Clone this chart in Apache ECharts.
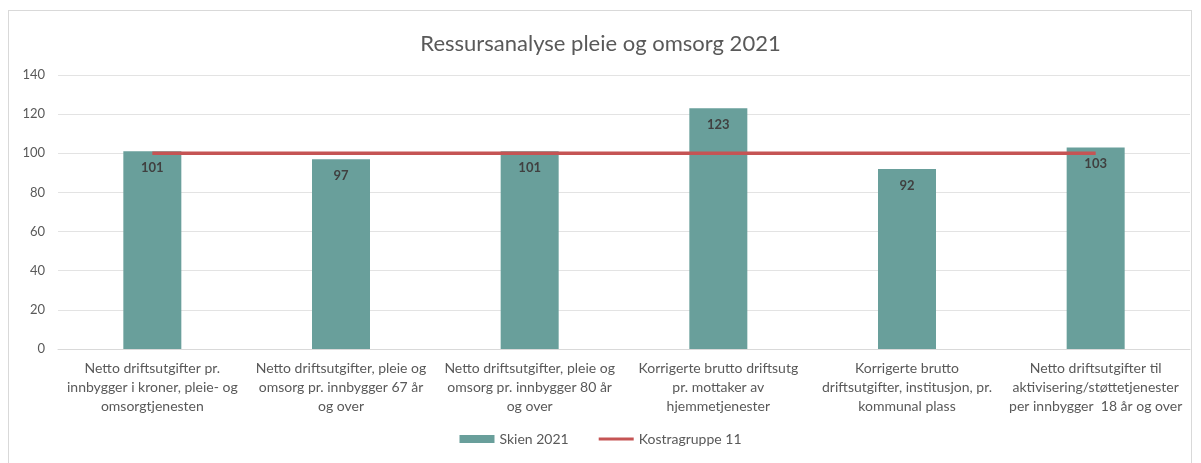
<!DOCTYPE html>
<html>
<head>
<meta charset="utf-8">
<script src="https://cdn.jsdelivr.net/npm/echarts@6/dist/echarts.min.js"></script>
<style>
  html, body { margin: 0; padding: 0; background: #fff; }
  #frame { position: absolute; left: 8px; top: 10px; width: 1184px; height: 460px; border: 1px solid #d9d9d9; border-bottom: none; box-sizing: border-box; }
  #chart { position: absolute; left: 0; top: 0; width: 1201px; height: 463px; }
</style>
</head>
<body>
<div id="frame"></div>
<div id="chart"></div>
<script>
// categories (wrapped as in the source chart)
let categories = [
    "Netto driftsutgifter pr.\ninnbygger i kroner, pleie- og\nomsorgtjenesten",
    "Netto driftsutgifter, pleie og\nomsorg pr. innbygger 67 år\nog over",
    "Netto driftsutgifter, pleie og\nomsorg pr. innbygger 80 år\nog over",
    "Korrigerte brutto driftsutg\npr. mottaker av\nhjemmetjenester",
    "Korrigerte brutto\ndriftsutgifter, institusjon, pr.\nkommunal plass",
    "Netto driftsutgifter til\naktivisering/støttetjenester\nper innbygger  18 år og over"
];
let skienValues = [101, 97, 101, 123, 92, 103];
let kostraValues = [100, 100, 100, 100, 100, 100];
let yTicks = { min: 0, max: 140, interval: 20 };

let fontFamily = "Lato, 'Open Sans', sans-serif";
let chart = echarts.init(document.getElementById("chart"));
let option = {
    animation: false,
    textStyle: { fontFamily: fontFamily },
    title: {
        text: "Ressursanalyse pleie og omsorg 2021",
        left: "center",
        top: 28,
        textStyle: { fontSize: 22, fontWeight: "normal", color: "#595959", fontFamily: fontFamily }
    },
    legend: {
        bottom: 12,
        left: "center",
        itemGap: 30,
        itemWidth: 35,
        itemHeight: 8,
        textStyle: { fontSize: 14, color: "#595959", fontFamily: fontFamily },
        data: [
            { name: "Skien 2021", icon: "rect" },
            { name: "Kostragruppe 11", icon: "path://M0,4 L35,4 L35,7 L0,7 Z" }
        ]
    },
    grid: {
        left: 58,
        right: 11,
        top: 75,
        bottom: 114
    },
    xAxis: {
        type: "category",
        data: categories,
        axisLine: { lineStyle: { color: "#d9d9d9", width: 1 } },
        axisTick: { show: false },
        axisLabel: {
            interval: 0,
            margin: 10,
            fontSize: 14,
            lineHeight: 19,
            color: "#595959",
            fontFamily: fontFamily
        }
    },
    yAxis: {
        type: "value",
        min: yTicks.min,
        max: yTicks.max,
        interval: yTicks.interval,
        axisLine: { show: false },
        axisTick: { show: false },
        splitLine: { show: true, lineStyle: { color: "#e3e3e3", width: 1 } },
        axisLabel: { fontSize: 13, color: "#595959", margin: 13, fontFamily: fontFamily }
    },
    series: [
        {
            name: "Skien 2021",
            type: "bar",
            barWidth: 58,
            data: skienValues,
            itemStyle: { color: "#699f9b" },
            label: {
                show: true,
                position: "insideTop",
                distance: 10,
                fontSize: 13,
                fontWeight: "bold",
                color: "#404040",
                fontFamily: fontFamily
            },
            z: 2
        },
        {
            name: "Kostragruppe 11",
            type: "line",
            data: kostraValues,
            symbol: "none",
            lineStyle: { color: "#c55454", width: 3.5 },
            itemStyle: { color: "#c55454" },
            z: 3
        }
    ]
};
chart.setOption(option, true);
window.onresize = () => {
    chart.resize();
};
</script>
</body>
</html>
